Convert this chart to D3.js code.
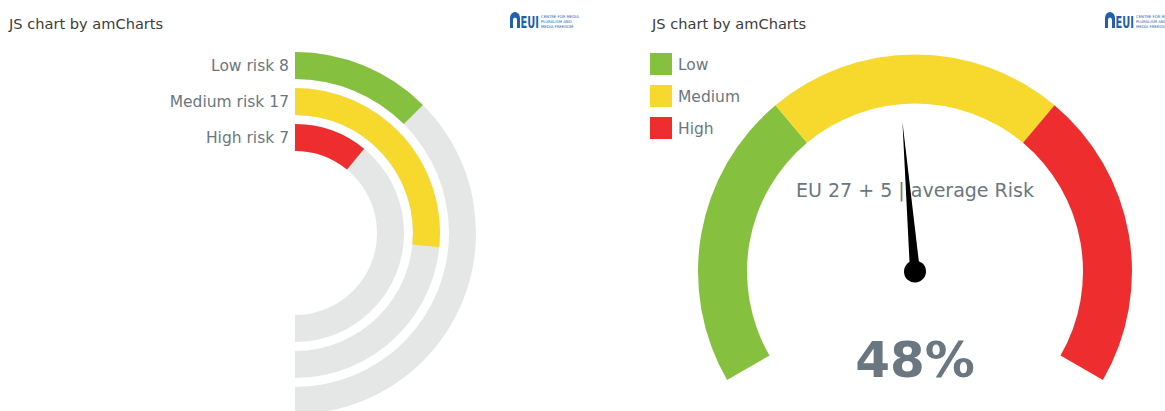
<!DOCTYPE html>
<html>
<head>
<meta charset="utf-8">
<script src="https://cdn.jsdelivr.net/npm/d3@7"></script>
<style>
  html, body { margin: 0; padding: 0; background: #ffffff; }
  svg { display: block; }
  text { font-family: "DejaVu Sans", Verdana, sans-serif; }
</style>
</head>
<body>
<svg id="chart" width="1165" height="411"></svg>
<script>
// ---------- data ----------
const riskCategories = ["Low risk", "Medium risk", "High risk"];
const riskCounts = [8, 17, 7];
const riskColors = ["#86c03f", "#f6d92c", "#ee2e2e"];

const gaugeBandNames = ["Low", "Medium", "High"];
const gaugeBandStart = [0, 33.33, 66.67];
const gaugeBandEnd = [33.33, 66.67, 100];
const gaugeBandColors = ["#86c03f", "#f6d92c", "#ee2e2e"];
const gaugeValue = 48;
const gaugeLabel = "EU 27 + 5 | average Risk";
const chartTitle = "JS chart by amCharts";
const logoLines = ["CENTRE FOR MEDIA", "PLURALISM AND", "MEDIA FREEDOM"];

const svg = d3.select("#chart");
const labelGray = "#6b7780";
const trackGray = "#e5e6e6";

// ---------- titles ----------
function title(x) {
  svg.append("text").attr("x", x).attr("y", 29)
    .attr("font-size", 14.6).attr("fill", "#3c3c3c").text(chartTitle);
}
title(9);
title(652);

// ---------- logos ----------
function logo(x, y) {
  const g = svg.append("g").attr("transform", `translate(${x},${y})`);
  const blue = "#2160ad";
  g.append("path")
    .attr("d", "M0,16 L0,6 A5,6 0 0 1 10,6 L10,16 L7,16 L7,8 A2,2.5 0 0 0 3,8 L3,16 Z")
    .attr("fill", blue);
  g.append("g").attr("transform", "translate(10.5,16) scale(0.66,1)")
    .append("text").attr("x", 0).attr("y", 0).attr("font-size", 15)
    .attr("font-weight", "bold").attr("fill", blue).text("EUI");
  logoLines.forEach((t, i) => {
    g.append("text").attr("x", 31).attr("y", 5.5 + i * 5).attr("font-size", 3.8)
      .attr("fill", blue).text(t);
  });
}
logo(510, 12);
logo(1105, 12);

// ---------- left: radial bars ----------
const leftCx = 295, leftCy = 233;
const radial = svg.append("g").attr("transform", `translate(${leftCx},${leftCy})`);
const totalRisk = d3.sum(riskCounts);
const angle = d3.scaleLinear().domain([0, totalRisk]).range([0, Math.PI]);
// reversed range: first category on the outside; ringBand() gives each ring's inner radius
const ringBand = d3.scaleBand().domain(riskCategories).range([181, 82]).paddingInner(0.25).paddingOuter(0);
riskCategories.forEach((cat, i) => {
  const innerR = ringBand(cat);
  const outerR = innerR + ringBand.bandwidth();
  const arc = d3.arc().innerRadius(innerR).outerRadius(outerR).startAngle(0);
  radial.append("path").attr("d", arc.endAngle(angle(totalRisk))()).attr("fill", trackGray);
  radial.append("path").attr("d", arc.endAngle(angle(riskCounts[i]))()).attr("fill", riskColors[i]);
  radial.append("text")
    .attr("x", -6).attr("y", -(outerR + innerR) / 2 + 5.5)
    .attr("text-anchor", "end").attr("font-size", 15.5).attr("fill", labelGray)
    .text(`${cat} ${riskCounts[i]}`);
});

// ---------- right: gauge ----------
const gCx = 915, gCy = 271.5;
const gauge = svg.append("g").attr("transform", `translate(${gCx},${gCy})`);
const gAngle = d3.scaleLinear().domain([0, 100]).range([-2 * Math.PI / 3, 2 * Math.PI / 3]);
const gArc = d3.arc().innerRadius(168).outerRadius(217);
gaugeBandNames.forEach((n, i) => {
  gauge.append("path")
    .attr("d", gArc.startAngle(gAngle(gaugeBandStart[i])).endAngle(gAngle(gaugeBandEnd[i]))())
    .attr("fill", gaugeBandColors[i]);
});

gauge.append("text").attr("x", 0).attr("y", -75).attr("text-anchor", "middle")
  .attr("font-size", 19).attr("fill", labelGray).text(gaugeLabel);

gauge.append("text").attr("x", 0).attr("y", 105.5).attr("text-anchor", "middle")
  .attr("font-size", 50).attr("font-weight", "bold").attr("fill", labelGray)
  .text(`${gaugeValue}%`);

const needleDeg = gAngle(gaugeValue) * 180 / Math.PI;
const needle = gauge.append("g").attr("transform", `rotate(${needleDeg})`);
needle.append("path").attr("d", "M-5,0 L0,-150 L5,0 Z").attr("fill", "#000");
needle.append("circle").attr("r", 11).attr("fill", "#000");

// ---------- legend ----------
const legend = svg.append("g").attr("transform", "translate(650,53)");
gaugeBandNames.forEach((n, i) => {
  const row = legend.append("g").attr("transform", `translate(0,${i * 32})`);
  row.append("rect").attr("width", 22).attr("height", 22).attr("fill", gaugeBandColors[i]);
  row.append("text").attr("x", 28).attr("y", 17).attr("font-size", 15.5)
    .attr("fill", labelGray).text(n);
});
</script>
</body>
</html>
